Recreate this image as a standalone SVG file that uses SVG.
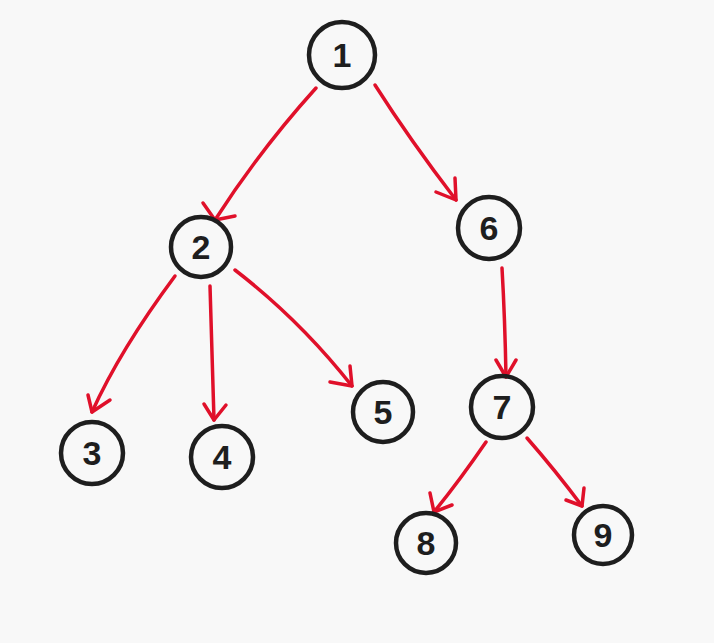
<svg xmlns="http://www.w3.org/2000/svg" width="714" height="643" viewBox="0 0 714 643">
<style>
.n circle{fill:none;stroke:#1e1e1e;stroke-width:4.5}
.n text{font-family:"Liberation Sans",sans-serif;font-size:34px;font-weight:bold;fill:#1e1e1e;text-anchor:middle;dominant-baseline:central}
.e path{fill:none;stroke:#e0102a;stroke-width:3.5;stroke-linecap:round;stroke-linejoin:round}
</style>
<rect width="714" height="643" fill="#f8f8f8"/>
<g class="e" id="edges">
<path d="M316 88Q260 150 215 220"/>
<path d="M203 203L215 220L235 216"/>
<path d="M375 85Q410 140 456 200"/>
<path d="M436 192L456 200L455 178"/>
<path d="M175 276Q120 350 92 412"/>
<path d="M88 395L92 412L110 400"/>
<path d="M210 286Q212 350 214 420"/>
<path d="M204 404L214 420L226 405"/>
<path d="M235 270Q300 320 352 386"/>
<path d="M330 382L352 386L350 366"/>
<path d="M502 268Q505 320 506 377"/>
<path d="M496 360L506 377L516 360"/>
<path d="M486 442Q460 480 434 512"/>
<path d="M430 493L434 512L452 505"/>
<path d="M527 438Q555 470 582 506"/>
<path d="M566 500L582 506L584 488"/>
</g>
<g class="n" id="n1"><circle cx="342" cy="55" r="33"/><text x="342" y="55">1</text></g>
<g class="n" id="n2"><circle cx="201" cy="247" r="30"/><text x="201" y="247">2</text></g>
<g class="n" id="n6"><circle cx="489" cy="228" r="31"/><text x="489" y="228">6</text></g>
<g class="n" id="n3"><circle cx="92" cy="453" r="31"/><text x="92" y="453">3</text></g>
<g class="n" id="n4"><circle cx="222" cy="457" r="31"/><text x="222" y="457">4</text></g>
<g class="n" id="n5"><circle cx="383" cy="412" r="30"/><text x="383" y="412">5</text></g>
<g class="n" id="n7"><circle cx="502" cy="407" r="31"/><text x="502" y="407">7</text></g>
<g class="n" id="n8"><circle cx="426" cy="543" r="30"/><text x="426" y="543">8</text></g>
<g class="n" id="n9"><circle cx="603" cy="535" r="29"/><text x="603" y="535">9</text></g>
</svg>
